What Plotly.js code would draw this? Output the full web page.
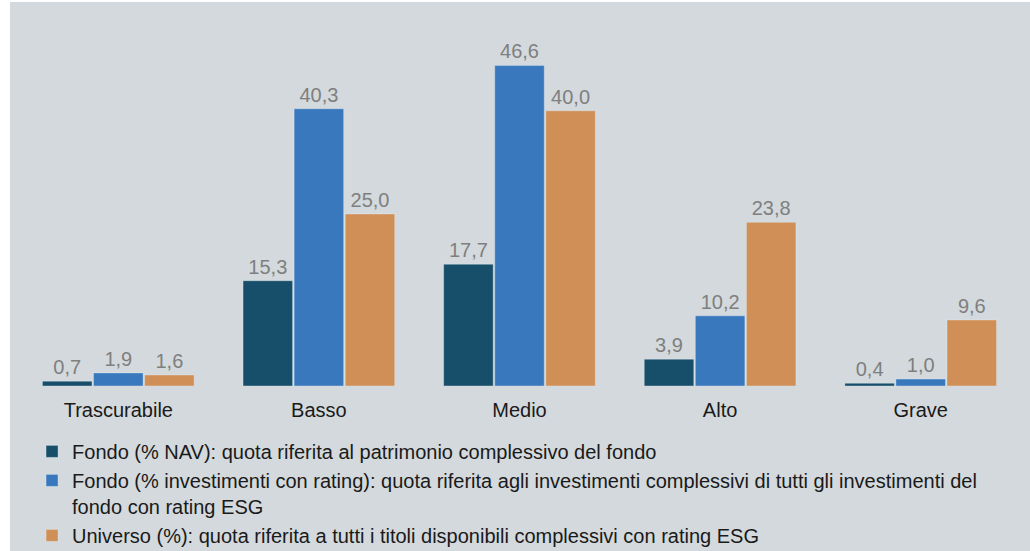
<!DOCTYPE html>
<html>
<head>
<meta charset="utf-8">
<script src="https://cdn.plot.ly/plotly-3.0.1.min.js"></script>
<style>
  html, body { margin: 0; padding: 0; background: #ffffff; }
  #chart { position: absolute; left: 10px; top: 2px; width: 1020px; height: 549px; }
</style>
</head>
<body>
<div id="chart"></div>
<script>
const categories = ["Trascurabile", "Basso", "Medio", "Alto", "Grave"];
const fondoNav = [0.7, 15.3, 17.7, 3.9, 0.4];
const fondoRating = [1.9, 40.3, 46.6, 10.2, 1.0];
const universo = [1.6, 25.0, 40.0, 23.8, 9.6];
const seriesNames = [
  "Fondo (% NAV): quota riferita al patrimonio complessivo del fondo",
  "Fondo (% investimenti con rating): quota riferita agli investimenti complessivi di tutti gli investimenti del<br>fondo con rating ESG",
  "Universo (%): quota riferita a tutti i titoli disponibili complessivi con rating ESG"
];
const colors = ["#174e69", "#3a78bd", "#d08f57"];

const font = "Arial, 'Liberation Sans', sans-serif";
const series = [fondoNav, fondoRating, universo];
const data = series.map((vals, i) => ({
  type: "bar",
  x: categories,
  y: vals,
  name: seriesNames[i],
  marker: { color: colors[i], line: { color: "rgba(235,245,255,0.35)", width: 1 } },
  texttemplate: "%{y:.1f}",
  textposition: "outside",
  textfont: { family: font, size: 20, color: "#7f7f7f" },
  cliponaxis: false,
  hoverinfo: "skip"
}));

const layout = {
  width: 1020,
  height: 549,
  margin: { l: 8, r: 9, t: 40, b: 0, autoexpand: false },
  paper_bgcolor: "#d3d9dc",
  plot_bgcolor: "#d3d9dc",
  separators: ",.",
  barmode: "group",
  bargap: 0.236,
  bargroupgap: 0.03,
  font: { family: font, size: 20, color: "#1a1a1a" },
  xaxis: {
    showgrid: false, zeroline: false, showline: false,
    ticks: "outside", ticklen: 6, tickcolor: "rgba(0,0,0,0)",
    tickfont: { family: font, size: 20, color: "#1a1a1a" }
  },
  yaxis: {
    domain: [0.3242, 1],
    range: [0, 50], visible: false, showgrid: false, zeroline: false
  },
  showlegend: true,
  legend: {
    orientation: "v",
    x: 0.014, xanchor: "left",
    y: 0.234, yanchor: "top",
    valign: "top",
    bgcolor: "rgba(0,0,0,0)",
    font: { family: font, size: 20, color: "#1a1a1a" },
    traceorder: "normal",
    tracegroupgap: 0
  }
};

Plotly.newPlot("chart", data, layout, { displayModeBar: false, staticPlot: true });
</script>
</body>
</html>
